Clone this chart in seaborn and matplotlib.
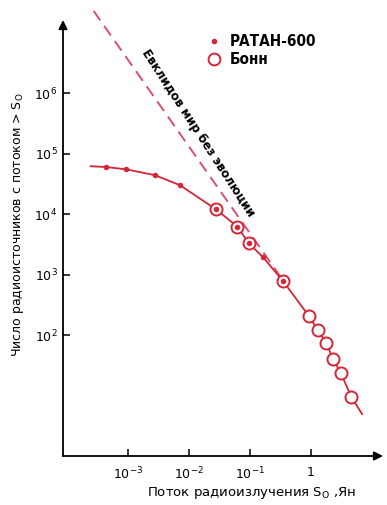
import matplotlib
matplotlib.use("Agg")
import numpy as np
import pandas as pd
import seaborn as sns
import matplotlib.pyplot as plt
from matplotlib.lines import Line2D

# ---- data ----
# RATAN-600 (filled dots): flux S0 (Jy), number of sources N(>S0)
ratan_S = [4.4e-4, 9.3e-4, 2.75e-3, 7.1e-3, 0.0275, 0.062, 0.095, 0.162, 0.347]
ratan_N = [6.0e4, 5.5e4, 4.4e4, 3.0e4, 1.2e4, 6.2e3, 3.3e3, 1.95e3, 7.8e2]
# Bonn (open circles)
bonn_S = [0.0275, 0.062, 0.095, 0.347, 0.93, 1.29, 1.78, 2.29, 3.09, 4.57]
bonn_N = [1.2e4, 6.2e3, 3.3e3, 7.8e2, 204, 120, 74, 40, 23.4, 9.5]
# fitted curve drawn through the data (end points)
curve_S = [2.4e-4, 4.4e-4, 9.3e-4, 2.75e-3, 7.1e-3, 0.0275, 0.062, 0.095,
           0.162, 0.347, 0.93, 1.29, 1.78, 2.29, 3.09, 4.57, 6.9]
curve_N = [6.2e4, 6.0e4, 5.5e4, 4.4e4, 3.0e4, 1.2e4, 6.2e3, 3.3e3,
           1.95e3, 7.8e2, 204, 120, 74, 40, 23.4, 9.5, 4.9]
# Euclidean non-evolving universe (dashed line)
euclid_S = [2.7e-4, 0.36]
euclid_N = [2.3e7, 7.6e2]

x_ticks = [1e-3, 1e-2, 1e-1, 1]
x_tick_labels = [r"$10^{-3}$", r"$10^{-2}$", r"$10^{-1}$", "1"]
y_ticks = [1e2, 1e3, 1e4, 1e5, 1e6]
y_tick_labels = [r"$10^{2}$", r"$10^{3}$", r"$10^{4}$", r"$10^{5}$", r"$10^{6}$"]

legend_labels = ["РАТАН-600", "Бонн"]
euclid_label = "Евклидов мир без эволюции"
x_label = r"Поток радиоизлучения $\mathrm{S}_{\mathrm{O}}$ ,Ян"
y_label = r"Число радиоисточников с потоком > $\mathrm{S}_{\mathrm{O}}$"

RED = "#d42638"
DASH_RED = "#d9506a"

sns.set_theme(style="white")
plt.rcParams["font.family"] = ["DejaVu Sans"]

fig = plt.figure(figsize=(3.87, 5.05), dpi=100)
W, H = 387, 505
ax = fig.add_axes([63 / W, 49 / H, 320 / W, 436 / H])
ax.set_xscale("log")
ax.set_yscale("log")

curve_df = pd.DataFrame({"S": curve_S, "N": curve_N})
euclid_df = pd.DataFrame({"S": euclid_S, "N": euclid_N})
ratan_df = pd.DataFrame({"S": ratan_S, "N": ratan_N})
bonn_df = pd.DataFrame({"S": bonn_S, "N": bonn_N})

sns.lineplot(data=euclid_df, x="S", y="N", sort=False, estimator=None, ax=ax,
             color=DASH_RED, lw=1.4, linestyle=(0, (6, 3.5)), zorder=1,
             clip_on=False)
sns.lineplot(data=curve_df, x="S", y="N", sort=False, estimator=None, ax=ax,
             color=RED, lw=1.3, zorder=2)
sns.scatterplot(data=bonn_df, x="S", y="N", ax=ax, marker="o", s=75,
                facecolor="white", edgecolor=RED, linewidth=1.4, zorder=3)
sns.scatterplot(data=ratan_df, x="S", y="N", ax=ax, marker="o", s=16,
                facecolor=RED, edgecolor=RED, linewidth=0, zorder=4)

ax.set_xlim(10 ** -4.07, 10 ** 1.18)
ax.set_ylim(1, 10 ** 7.21)

ax.set_xticks(x_ticks)
ax.set_xticklabels(x_tick_labels)
ax.set_yticks(y_ticks)
ax.set_yticklabels(y_tick_labels)
ax.minorticks_off()
ax.tick_params(axis="both", direction="in", length=5, width=1.1, color="black",
               labelsize=9, labelcolor="black", bottom=True, left=True,
               top=False, right=False)
ax.tick_params(axis="x", pad=7)
ax.tick_params(axis="y", pad=4)

for sp in ax.spines.values():
    sp.set_visible(False)
ax.annotate("", xy=(1, 0), xytext=(0, 0), xycoords="axes fraction",
            arrowprops=dict(arrowstyle="-|>", color="black", lw=1.3,
                            mutation_scale=13, shrinkA=0, shrinkB=0))
ax.annotate("", xy=(0, 1), xytext=(0, 0), xycoords="axes fraction",
            arrowprops=dict(arrowstyle="-|>", color="black", lw=1.3,
                            mutation_scale=13, shrinkA=0, shrinkB=0))

ax.set_xlabel(x_label, fontsize=9.5, color="black", va="top")
ax.xaxis.set_label_coords(0.59, -0.066)
ax.set_ylabel(y_label, fontsize=9, color="black")
ax.yaxis.set_label_coords(-0.115, 0.53)

fig.text(198 / W, 1 - 133 / H, euclid_label, rotation=-57, ha="center",
         va="center", rotation_mode="anchor", fontsize=9.5, fontweight="bold",
         fontstretch="condensed", color="black")

handles = [Line2D([], [], marker="o", ls="none", markersize=4, color=RED,
                  markeredgewidth=0),
           Line2D([], [], marker="o", ls="none", markersize=8.5,
                  markerfacecolor="white", markeredgecolor=RED,
                  markeredgewidth=1.4)]
ax.legend(handles=handles, labels=legend_labels, loc="upper left",
          bbox_to_anchor=(208 / W, 1 - 34 / H), bbox_transform=fig.transFigure,
          frameon=False, handlelength=0.8, handletextpad=0.6,
          labelspacing=0.2, borderpad=0, borderaxespad=0, labelcolor="black",
          prop=dict(weight="bold", size=11, stretch="condensed"))

fig.savefig("out.png", dpi=100)
